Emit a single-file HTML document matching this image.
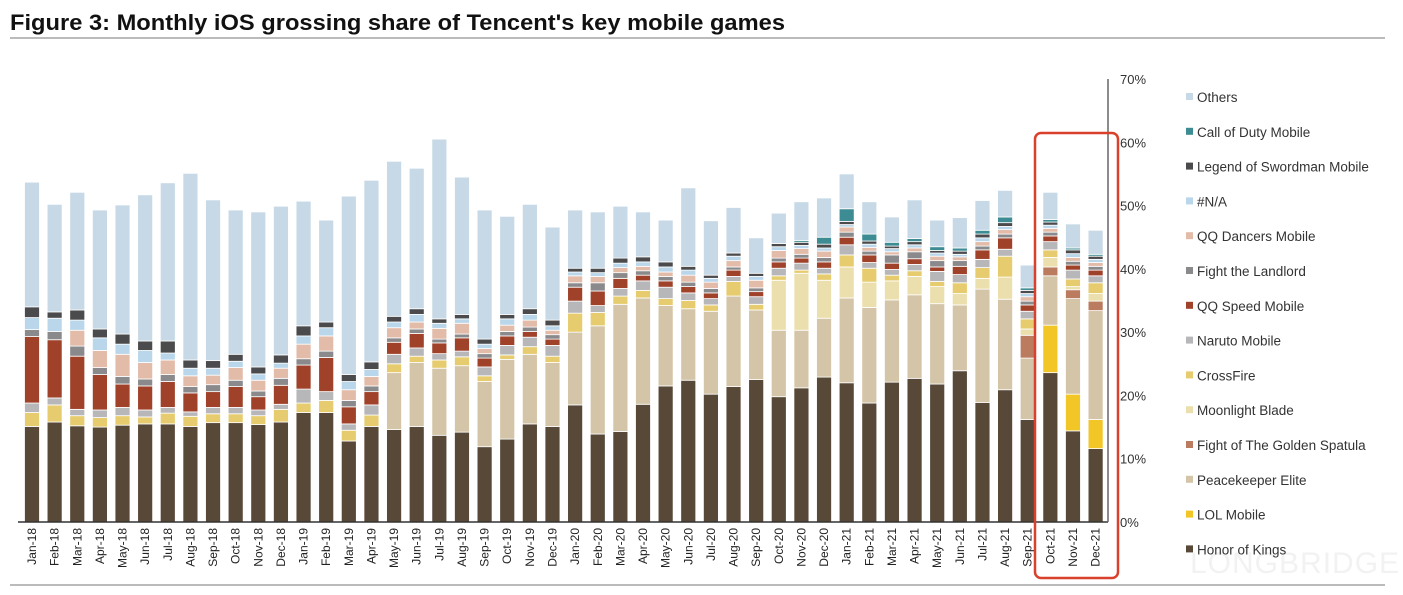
<!DOCTYPE html>
<html><head><meta charset="utf-8"><style>
body{margin:0;background:#fff;width:1403px;height:595px;overflow:hidden;font-family:"Liberation Sans",sans-serif}
svg{display:block}
</style></head><body>
<svg id="chart" width="1403" height="595">
<text x="10" y="30" font-size="22" font-weight="bold" fill="#111" textLength="775" lengthAdjust="spacingAndGlyphs">Figure 3: Monthly iOS grossing share of Tencent's key mobile games</text>
<line x1="10" y1="38" x2="1385" y2="38" stroke="#bbb" stroke-width="2"/>
<line x1="10" y1="585" x2="1385" y2="585" stroke="#bbb" stroke-width="2"/>
<text x="1190" y="573" font-size="30" fill="#f2f2f2" letter-spacing="1">LONGBRIDGE</text>
<g id="bars"></g><g id="axis"></g><g id="legend"></g>
<rect x="1035" y="133" width="83" height="445" rx="6" fill="none" stroke="#d9412c" stroke-width="2.5"/>
</svg>
<script>
const months=["Jan-18","Feb-18","Mar-18","Apr-18","May-18","Jun-18","Jul-18","Aug-18","Sep-18","Oct-18","Nov-18","Dec-18","Jan-19","Feb-19","Mar-19","Apr-19","May-19","Jun-19","Jul-19","Aug-19","Sep-19","Oct-19","Nov-19","Dec-19","Jan-20","Feb-20","Mar-20","Apr-20","May-20","Jun-20","Jul-20","Aug-20","Sep-20","Oct-20","Nov-20","Dec-20","Jan-21","Feb-21","Mar-21","Apr-21","May-21","Jun-21","Jul-21","Aug-21","Sep-21","Oct-21","Nov-21","Dec-21"];
const honorOfKings=[15.1,15.8,15.2,15.0,15.3,15.5,15.5,15.1,15.7,15.7,15.4,15.8,17.3,17.3,12.8,15.1,14.6,15.1,13.7,14.2,11.9,13.1,15.5,15.1,18.5,13.9,14.3,18.6,21.5,22.4,20.2,21.4,22.5,19.8,21.2,22.9,22.0,18.8,22.1,22.7,21.8,23.9,18.9,20.9,16.2,23.6,14.4,11.6];
const lolMobile=[0,0,0,0,0,0,0,0,0,0,0,0,0,0,0,0,0,0,0,0,0,0,0,0,0,0,0,0,0,0,0,0,0,0,0,0,0,0,0,0,0,0,0,0,0,7.5,5.8,4.6];
const peacekeeper=[0,0,0,0,0,0,0,0,0,0,0,0,0,0,0,0,9.0,10.1,10.6,10.5,10.3,12.6,11.0,10.1,11.5,17.1,20.1,16.8,12.7,11.3,13.1,14.3,11.0,10.5,9.1,9.3,13.4,15.1,13.0,13.2,12.7,10.4,17.9,14.3,9.7,7.8,15.1,17.2];
const goldenSpatula=[0,0,0,0,0,0,0,0,0,0,0,0,0,0,0,0,0,0,0,0,0,0,0,0,0,0,0,0,0,0,0,0,0,0,0,0,0,0,0,0,0,0,0,0,3.6,1.4,1.4,1.5];
const moonlightBlade=[0,0,0,0,0,0,0,0,0,0,0,0,0,0,0,0,0,0,0,0,0,0,0,0,0,0,0,0,0,0,0,0,0,7.9,9.0,6.0,4.9,4.0,3.0,2.9,2.7,1.8,1.7,3.5,1.0,1.5,0.5,1.2];
const crossFire=[2.2,2.7,1.6,1.5,1.5,1.1,1.7,1.6,1.4,1.4,1.4,2.0,1.5,1.9,1.7,1.8,1.4,1.0,1.3,1.4,0.9,0.7,1.2,1.0,3.0,2.1,1.3,1.2,1.1,1.3,1.0,2.3,0.9,0.7,0.5,1.0,1.9,2.2,0.9,0.9,0.8,1.7,1.7,3.3,1.6,1.2,1.2,1.7];
const naruto=[1.5,1.1,1.0,1.2,1.3,1.1,0.9,0.7,1.0,1.0,0.9,0.8,2.2,1.4,1.0,1.6,1.5,1.3,1.0,0.9,1.4,1.5,1.5,1.7,1.9,1.1,1.2,1.5,1.8,1.2,1.0,0.8,1.2,1.2,1.1,0.9,1.6,0.9,0.9,1.0,1.6,1.3,1.3,1.1,1.2,1.3,1.4,1.1];
const qqSpeed=[10.5,9.2,8.4,5.6,3.7,3.8,4.1,3.0,2.5,3.3,2.1,3.0,3.8,5.4,2.7,2.1,1.9,2.3,1.7,2.1,1.4,1.5,0.9,1.0,2.2,2.3,1.6,0.9,1.0,1.0,0.9,1.0,0.8,1.0,0.8,1.0,1.2,1.2,1.0,0.9,0.7,1.3,1.5,1.8,1.0,0.9,0.8,0.9];
const fightLandlord=[1.1,1.3,1.6,1.1,1.2,1.1,1.1,1.0,1.1,1.0,0.9,1.1,1.0,1.0,1.0,0.9,0.7,0.7,0.6,0.6,0.7,0.7,0.7,0.7,0.7,1.3,0.9,0.7,0.7,0.7,0.7,0.5,0.6,0.6,0.6,0.7,0.8,0.6,1.3,1.1,1.0,0.9,0.6,0.6,0.6,0.6,0.6,0.6];
const qqDancers=[0,0,2.5,2.7,3.5,2.6,2.3,1.7,1.5,2.0,1.7,1.6,2.3,2.4,1.7,1.5,1.6,1.1,1.7,1.7,0.8,1.0,1.1,0.7,1.1,1.0,0.8,0.7,0.7,1.1,1.0,1.0,1.2,1.2,0.9,1.0,0.8,0.6,0.5,0.6,0.7,0.6,0.7,0.7,0.7,0.6,0.6,0.6];
const notAvailable=[1.9,2.1,1.6,2.0,1.6,1.9,1.1,1.2,1.1,1.0,1.0,0.8,1.3,1.3,1.3,1.1,0.9,1.2,0.8,0.7,0.7,1.0,0.9,0.7,0.6,0.6,0.7,0.7,0.8,0.8,0.6,0.7,0.6,0.6,0.5,0.5,0.4,0.5,0.5,0.5,0.5,0.4,0.6,0.5,0.5,0.5,0.6,0.5];
const legendSwordman=[1.7,1.0,1.6,1.4,1.6,1.5,1.9,1.3,1.2,1.1,1.1,1.3,1.6,0.9,1.1,1.2,0.9,0.9,0.7,0.7,0.8,0.7,0.9,0.9,0.6,0.7,0.8,0.8,0.8,0.6,0.5,0.5,0.5,0.5,0.5,0.6,0.5,0.5,0.4,0.5,0.4,0.5,0.6,0.6,0.5,0.5,0.6,0.5];
const callOfDuty=[0,0,0,0,0,0,0,0,0,0,0,0,0,0,0,0,0,0,0,0,0,0,0,0,0,0,0,0,0,0,0,0,0,0,0.3,1.1,2.0,1.1,0.6,0.5,0.6,0.5,0.6,0.9,0.4,0.4,0.3,0.3];
const others=[19.7,17.0,18.6,18.8,20.4,23.1,25.0,29.5,25.4,22.8,24.5,23.5,19.7,16.1,28.2,28.7,24.5,22.2,28.4,21.7,20.4,15.5,16.5,14.7,9.2,8.9,8.2,7.1,6.6,12.4,8.6,7.2,5.6,4.8,6.1,6.2,5.5,5.1,4.0,6.1,4.2,4.8,4.7,4.2,3.6,4.3,3.8,3.8];
const seriesNames=["Honor of Kings","LOL Mobile","Peacekeeper Elite","Fight of The Golden Spatula","Moonlight Blade","CrossFire","Naruto Mobile","QQ Speed Mobile","Fight the Landlord","QQ Dancers Mobile","#N/A","Legend of Swordman Mobile","Call of Duty Mobile","Others"];
const yTicks=[0,10,20,30,40,50,60,70];

const series=[honorOfKings,lolMobile,peacekeeper,goldenSpatula,moonlightBlade,crossFire,naruto,qqSpeed,fightLandlord,qqDancers,notAvailable,legendSwordman,callOfDuty,others];
const colors=["#574838","#f2c626","#d4c5a8","#bb7b5f","#ecdfae","#e6cc6e","#b7b7ba","#a0412a","#8a8a8c","#e3bba9","#b9d6ea","#4b4b4d","#3e8c93","#c7d9e6"];
const NS="http://www.w3.org/2000/svg";
const y0=522,y1=79,x0=32,step=22.63,bw=15;
const yS=v=>y0-(v/70)*(y0-y1);
const xS=i=>x0+i*step;
function mk(t,a,p){const e=document.createElementNS(NS,t);for(const k in a)e.setAttribute(k,a[k]);p.appendChild(e);return e;}
const gB=document.getElementById('bars'),gA=document.getElementById('axis'),gL=document.getElementById('legend');
months.forEach((m,i)=>{
  let cum=0;
  series.forEach((s,k)=>{
    const v=s[i];if(!v)return;
    const r=mk('rect',{x:xS(i)-bw/2,y:yS(cum+v),width:bw,height:yS(cum)-yS(cum+v),fill:colors[k],stroke:'#fff','stroke-width':0.8},gB);
    
    
    cum+=v;
  });
  const t=mk('text',{x:0,y:0,transform:`translate(${xS(i)+4},528) rotate(-90)`,'text-anchor':'end','font-size':12,fill:'#222'},gA);
  t.textContent=m;
  
  
});
const base=mk('line',{x1:18,y1:y0,x2:1108,y2:y0,stroke:'#333','stroke-width':1.5},gA);


const ax=mk('line',{x1:1108,y1:y1,x2:1108,y2:y0,stroke:'#666','stroke-width':1.5},gA);


yTicks.forEach(v=>{
  const t=mk('text',{x:1120,y:yS(v)+5,'font-size':13,fill:'#333'},gA);
  t.textContent=v+'%';
  
  
});
for(let k=13;k>=0;k--){
  const row=13-k, yy=97+row*34.8;
  const sq=mk('rect',{x:1186,y:yy-4,width:7,height:7,fill:colors[k]},gL);
  
  
  const t=mk('text',{x:1197,y:yy+5,'font-size':13.5,fill:'#333'},gL);
  t.textContent=seriesNames[k];
  
  
}
</script>
</body></html>
